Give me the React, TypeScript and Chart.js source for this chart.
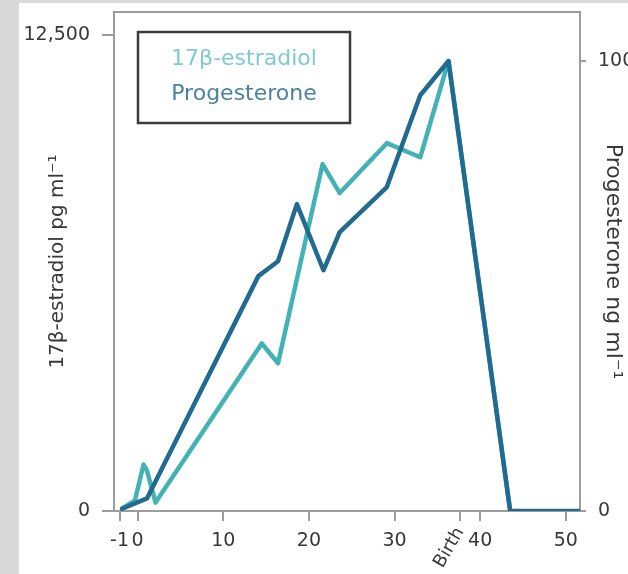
import React, { useEffect, useRef } from "react";
import { Chart, registerables } from "chart.js";

Chart.register(...registerables);

// ---- data (weeks of gestation) ----
const estradiolWeeks = [-1.8, -0.3, 0.7, 1.1, 2.1, 14.5, 16.4, 21.6, 23.6, 29.1, 33.0, 36.3, 43.5];
const estradiolValues = [70, 280, 1220, 1060, 220, 4400, 3880, 9110, 8350, 9660, 9290, 11820, 0];

const progesteroneWeeks = [-1.8, 1.1, 14.1, 16.4, 18.6, 21.7, 23.6, 29.1, 33.0, 36.3, 43.5, 51.6];
const progesteroneValues = [0.5, 2.8, 52.2, 55.5, 68.2, 53.5, 62.0, 72.0, 92.4, 100, 0, 0];

const xTickValues = [-2.1, 0, 10, 20, 30, 37.65, 40, 50];
const xTickLabels = ["-1", "0", "10", "20", "30", "", "40", "50"];
const leftTickValues = [0, 12500];
const rightTickValues = [0, 100];

const birthWeek = 37.65;
const birthLabel = "Birth";

const estradiolLabel = "17β-estradiol";
const progesteroneLabel = "Progesterone";
const leftTitle = "17β-estradiol pg ml⁻¹";
const rightTitle = "Progesterone ng ml⁻¹";

// ---- styles ----
const FONT = "'DejaVu Sans', sans-serif";
const estradiolColor = "#43b2b5";
const progesteroneColor = "#216a90";
const estradiolText = "#7fcad0";
const progesteroneText = "#4a82a2";
const axisColor = "#9c9c9c";
const textColor = "#383838";

const legendBox = {
  id: "legendBox",
  afterDraw(chart: any) {
    const { ctx, chartArea } = chart;
    const x = chartArea.left + 24;
    const y = chartArea.top + 20;
    const w = 212;
    const h = 91;
    ctx.save();
    ctx.strokeStyle = "#3d3d3d";
    ctx.lineWidth = 2.5;
    ctx.strokeRect(x, y, w, h);
    ctx.font = `22px ${FONT}`;
    ctx.textAlign = "center";
    ctx.textBaseline = "middle";
    const ds = chart.data.datasets;
    ctx.fillStyle = estradiolText;
    ctx.fillText(ds[0].label, x + w / 2, y + 27);
    ctx.fillStyle = progesteroneText;
    ctx.fillText(ds[1].label, x + w / 2, y + 62);
    ctx.restore();
  },
};

const birthText = {
  id: "birthText",
  afterDraw(chart: any) {
    const { ctx } = chart;
    const xs = chart.scales.x;
    const px = xs.getPixelForValue(birthWeek);
    const py = xs.top + 18;
    ctx.save();
    ctx.translate(px, py);
    ctx.rotate((-60 * Math.PI) / 180);
    ctx.font = `18px ${FONT}`;
    ctx.fillStyle = textColor;
    ctx.textAlign = "right";
    ctx.textBaseline = "middle";
    ctx.fillText(birthLabel, 0, 0);
    ctx.restore();
  },
};

const noPad = (s: any) => {
  s.paddingTop = 0;
  s.paddingBottom = 0;
  s.paddingLeft = 0;
  s.paddingRight = 0;
};

export default function App() {
  const ref = useRef<HTMLCanvasElement | null>(null);

  useEffect(() => {
    if (!ref.current) return;
    const chart = new Chart(ref.current, {
      type: "line",
      data: {
        datasets: [
          {
            label: estradiolLabel,
            data: estradiolWeeks.map((w, i) => ({ x: w, y: estradiolValues[i] })),
            borderColor: estradiolColor,
            backgroundColor: estradiolColor,
            borderWidth: 4.5,
            pointRadius: 0,
            tension: 0,
            yAxisID: "y",
            xAxisID: "x",
            order: 2,
            borderJoinStyle: "round",
            borderCapStyle: "round",
          },
          {
            label: progesteroneLabel,
            data: progesteroneWeeks.map((w, i) => ({ x: w, y: progesteroneValues[i] })),
            borderColor: progesteroneColor,
            backgroundColor: progesteroneColor,
            borderWidth: 4.5,
            pointRadius: 0,
            tension: 0,
            yAxisID: "yP",
            xAxisID: "x",
            order: 1,
            borderJoinStyle: "round",
            borderCapStyle: "round",
          },
        ],
      },
      options: {
        responsive: false,
        animation: false,
        layout: { padding: { top: 9, left: 0, right: 0, bottom: 0 } },
        plugins: { legend: { display: false }, tooltip: { enabled: false } },
        scales: {
          x: {
            type: "linear",
            position: "bottom",
            min: -2.75,
            max: 51.65,
            afterBuildTicks: (s: any) => {
              s.ticks = xTickValues.map((v) => ({ value: v }));
            },
            afterFit: (s: any) => {
              s.height = 63;
              noPad(s);
            },
            ticks: {
              autoSkip: false,
              maxRotation: 0,
              minRotation: 0,
              padding: 9,
              color: textColor,
              font: { family: FONT, size: 19 },
              callback: (_v: any, i: number) => xTickLabels[i],
            },
            grid: { drawOnChartArea: false, drawTicks: true, tickLength: 10, color: axisColor, lineWidth: 2 },
            border: { display: true, color: axisColor, width: 2 },
          },
          x2: {
            type: "linear",
            position: "top",
            min: -2.75,
            max: 51.65,
            afterFit: (s: any) => {
              s.height = 0;
              noPad(s);
            },
            ticks: { display: false },
            grid: { drawOnChartArea: false, drawTicks: false },
            border: { display: true, color: axisColor, width: 2 },
          },
          y: {
            type: "linear",
            position: "left",
            min: 0,
            max: 13105,
            afterBuildTicks: (s: any) => {
              s.ticks = leftTickValues.map((v) => ({ value: v }));
            },
            afterFit: (s: any) => {
              s.width = 95;
              noPad(s);
            },
            ticks: {
              padding: 12,
              color: textColor,
              font: { family: FONT, size: 19 },
              callback: (v: any) => Number(v).toLocaleString("en-US"),
            },
            grid: { drawOnChartArea: false, drawTicks: true, tickLength: 12, color: axisColor, lineWidth: 2 },
            border: { display: true, color: axisColor, width: 2 },
            title: {
              display: true,
              text: leftTitle,
              color: textColor,
              font: { family: FONT, size: 20 },
              padding: { top: 27, bottom: 0 },
            },
          },
          yP: {
            type: "linear",
            position: "right",
            min: 0,
            max: 110.9,
            afterBuildTicks: (s: any) => {
              s.ticks = rightTickValues.map((v) => ({ value: v }));
            },
            afterFit: (s: any) => {
              s.width = 48;
              noPad(s);
            },
            ticks: {
              padding: 12,
              color: textColor,
              font: { family: FONT, size: 19 },
            },
            grid: { drawOnChartArea: false, drawTicks: true, tickLength: 6, color: axisColor, lineWidth: 2 },
            border: { display: true, color: axisColor, width: 2 },
            title: {
              display: true,
              text: rightTitle,
              color: textColor,
              font: { family: FONT, size: 22 },
              padding: { top: 2, bottom: 0 },
            },
          },
        },
      },
      plugins: [legendBox, birthText],
    } as any);
    return () => chart.destroy();
  }, []);

  return (
    <div style={{ position: "fixed", left: 0, top: 0, width: 628, height: 574, background: "#d9d9d9", overflow: "hidden" }}>
      <div style={{ position: "absolute", left: 19, top: 3, width: 609, height: 571, background: "#ffffff" }}>
        <canvas ref={ref} width={609} height={571} style={{ display: "block", width: 609, height: 571 }} />
      </div>
    </div>
  );
}
